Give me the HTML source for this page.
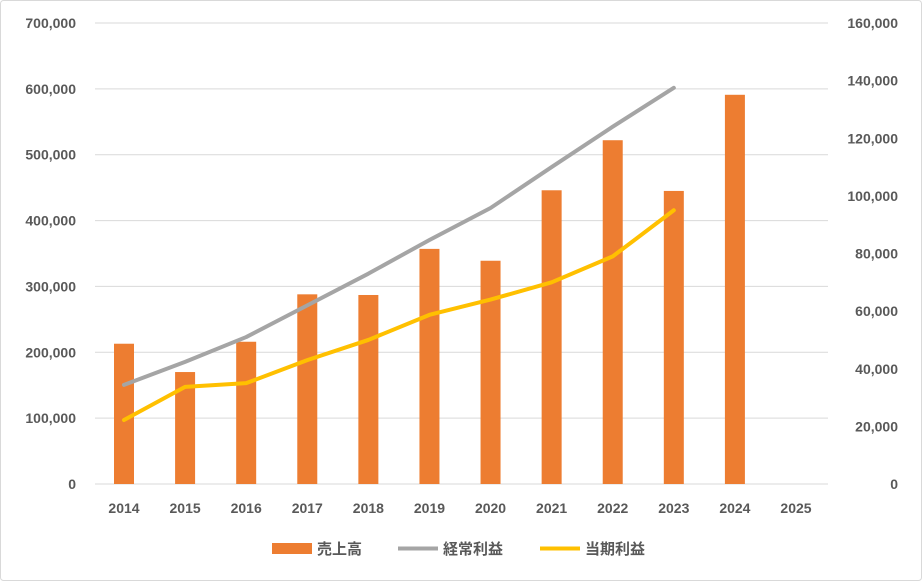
<!DOCTYPE html>
<html><head><meta charset="utf-8"><style>
body{margin:0;background:#fff;}
svg{display:block;font-family:"Liberation Sans","Noto Sans CJK JP",sans-serif;}
</style></head><body>
<svg id="chart" width="922" height="581"></svg>
<script>
const categories=["2014","2015","2016","2017","2018","2019","2020","2021","2022","2023","2024","2025"];
const sales=[213000,170000,216000,288000,287000,357000,339000,446000,522000,445000,591000,null];
const ordinaryProfit=[34400,42400,51000,62000,73000,84700,95800,110000,124000,137500,null,null];
const netProfit=[22200,33700,35000,43000,50000,58700,64000,70000,79000,95000,null,null];
const leftTicks=[0,100000,200000,300000,400000,500000,600000,700000];
const rightTicks=[0,20000,40000,60000,80000,100000,120000,140000,160000];

const NS="http://www.w3.org/2000/svg";
const svg=document.getElementById('chart');
const y0=484,yTop=23,xL=95,xR=828;
const yL=v=>y0-(v/700000)*(y0-yTop);
const yR=v=>y0-(v/160000)*(y0-yTop);
const x=i=>124+i*(796-124)/(categories.length-1);
function mk(t,a){const e=document.createElementNS(NS,t);for(const k in a)e.setAttribute(k,a[k]);svg.appendChild(e);return e;}
const border=mk('rect',{x:0.5,y:0.5,width:921,height:580,fill:'#fff',stroke:'#d9d9d9',rx:3});


leftTicks.forEach(v=>{
  const g=mk('line',{x1:xL,x2:xR,y1:yL(v),y2:yL(v),stroke:'#d9d9d9','stroke-width':1});
  
  
  const t=mk('text',{x:76,y:yL(v)+5,'text-anchor':'end','font-size':14,'font-weight':'bold',fill:'#595959'});
  t.textContent=v.toLocaleString('en-US');
  
  
});
rightTicks.forEach(v=>{
  const t=mk('text',{x:898,y:yR(v)+5,'text-anchor':'end','font-size':14,'font-weight':'bold',fill:'#595959'});
  t.textContent=v.toLocaleString('en-US');
  
  
});
categories.forEach((c,i)=>{
  const t=mk('text',{x:x(i),y:513,'text-anchor':'middle','font-size':14,'font-weight':'bold',fill:'#595959'});
  t.textContent=c;
  
  
  if(sales[i]!=null){
    const b=mk('rect',{x:x(i)-10,y:yL(sales[i]),width:20,height:y0-yL(sales[i]),fill:'#ed7d31'});
    
    
  }
});
function line(vals,col,name){
  const p=[];vals.forEach((v,i)=>{if(v!=null)p.push(x(i)+','+yR(v));});
  const l=mk('polyline',{points:p.join(' '),fill:'none',stroke:col,'stroke-width':4,'stroke-linecap':'round','stroke-linejoin':'round'});
  
  
}
line(ordinaryProfit,'#a5a5a5','ordinary-profit-line');
line(netProfit,'#ffc000','net-profit-line');
const leg=[["売上高",'#ed7d31',272,'rect'],["経常利益",'#a5a5a5',398,'line'],["当期利益",'#ffc000',540,'line']];
leg.forEach(([n,c,lx,k])=>{
  if(k==='rect'){const r=mk('rect',{x:lx,y:543,width:40,height:11,fill:c});}
  else{const r=mk('line',{x1:lx,x2:lx+40,y1:548.5,y2:548.5,stroke:c,'stroke-width':4});}
  const t=mk('text',{x:lx+45,y:554,'font-size':15,'font-weight':'bold',fill:'#595959'});
  t.textContent=n;
  
  
});
</script>
</body></html>
